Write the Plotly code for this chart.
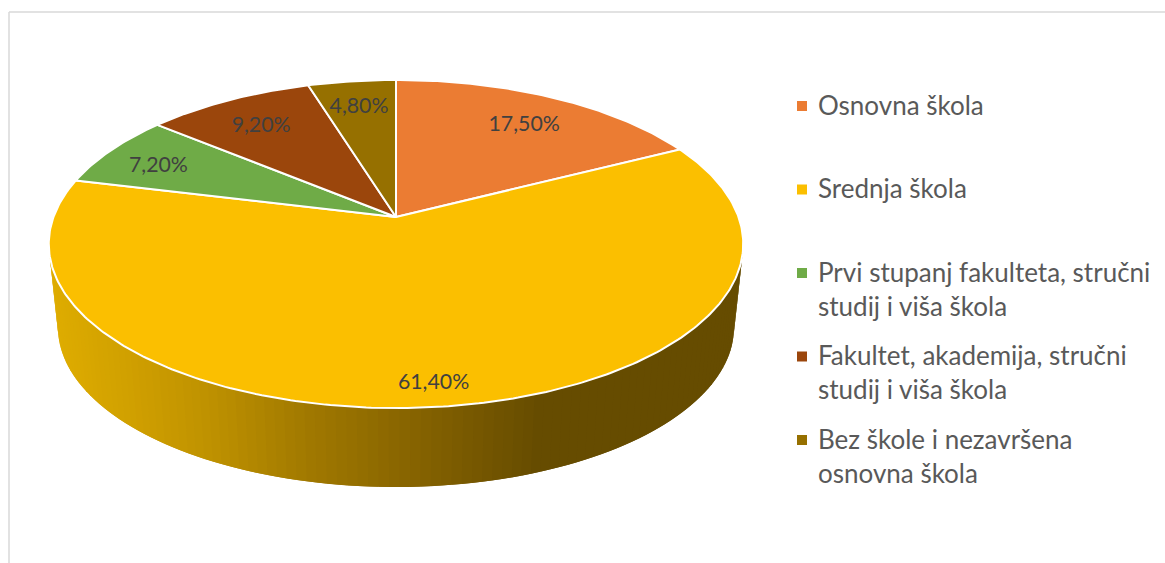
import numpy as np
import plotly.graph_objects as go

# ---- data ----
categories = [
    ["Osnovna škola"],
    ["Srednja škola"],
    ["Prvi stupanj fakulteta, stručni", "studij i viša škola"],
    ["Fakultet, akademija, stručni", "studij i viša škola"],
    ["Bez škole i nezavršena", "osnovna škola"],
]
shares = [17.5, 61.4, 7.2, 9.2, 4.8]

# ---- styling ----
colors = ["#EB7C33", "#FBBF00", "#6FAB47", "#9B460C", "#967000"]
label_radius = [0.79, 0.885, 0.82, 0.79, 0.79]
label_dx = [1, -3.5, -1, 1, -1]
label_dy = [5, 3, 5, 4, 1]
FONT = "Lato"
CX, CY, A, B, K = 396.0, 217.0, 342.5, 159.6, 0.1646
VY, WALL = 3400.0, 0.9736


def project(theta, r=1.0):
    u, v = r * np.sin(theta), r * np.cos(theta)
    d = 1 + K * v
    return CX + A * u / d, CY - B * v / d


def lower(x, y):
    return CX + (x - CX) * WALL, VY + (y - VY) * WALL


def wall_color(x):
    xs = [50, 130, 200, 300, 400, 530, 760]
    rs = [222, 206, 190, 160, 135, 102, 102]
    gs = [172, 158, 145, 120, 100, 76, 76]
    return f"rgb({np.interp(x, xs, rs):.0f},{np.interp(x, xs, gs):.0f},0)"


fig = go.Figure()

# side wall: each strip overlaps the previous one so no seams show
wall_edges = np.radians(np.arange(100, 261, 1.5))
for k in range(1, len(wall_edges)):
    a0, a1 = wall_edges[max(0, k - 2)], wall_edges[k]
    am = wall_edges[k - 1]
    x0, y0 = project(a0)
    xm, ym = project(am)
    x1, y1 = project(a1)
    lx0, ly0 = lower(x0, y0)
    lxm, lym = lower(xm, ym)
    lx1, ly1 = lower(x1, y1)
    c = wall_color((xm + x1) / 2)
    fig.add_trace(go.Scatter(
        x=[x0, xm, x1, lx1, lxm, lx0, x0], y=[y0, ym, y1, ly1, lym, ly0, y0],
        mode="lines", fill="toself", fillcolor=c,
        line=dict(color=c, width=0), hoverinfo="skip", showlegend=False))

# top face
total = sum(shares)
edges = np.cumsum([0] + shares) / total * 2 * np.pi
for i, name in enumerate(categories):
    th = np.linspace(edges[i], edges[i + 1], max(4, int(shares[i] * 5)))
    px, py = project(th)
    fig.add_trace(go.Scatter(
        x=[CX, *px, CX], y=[CY, *py, CY], mode="lines", fill="toself",
        fillcolor=colors[i], line=dict(color="white", width=2),
        name=" ".join(name), hoverinfo="name", showlegend=False))

# value labels
mids = (edges[:-1] + edges[1:]) / 2
lx, ly = project(mids, np.array(label_radius))
fig.add_trace(go.Scatter(
    x=lx + np.array(label_dx), y=ly + np.array(label_dy), mode="text",
    text=[f"{s:.2f}%".replace(".", ",") for s in shares],
    textposition="middle center",
    textfont=dict(family=FONT, size=21.3, color="#404040"),
    hoverinfo="skip", showlegend=False))

# legend
annotations = []
for i, lines in enumerate(categories):
    y = 106 + 83.5 * i
    fig.add_trace(go.Scatter(
        x=[802], y=[y], mode="markers",
        marker=dict(symbol="square", size=10, color=colors[i], line=dict(width=0)),
        hoverinfo="skip", showlegend=False))
    for j, line in enumerate(lines):
        annotations.append(dict(
            x=818, y=y + 34 * j - 1.5, xref="x", yref="y", text=line, showarrow=False,
            xanchor="left", yanchor="middle", xshift=-2,
            font=dict(family=FONT, size=26, color="#595959")))

fig.update_layout(
    width=1165, height=563, margin=dict(l=0, r=0, t=0, b=0),
    paper_bgcolor="white", plot_bgcolor="white", showlegend=False,
    xaxis=dict(range=[0, 1165], visible=False, fixedrange=True),
    yaxis=dict(range=[563, 0], visible=False, fixedrange=True),
    annotations=annotations,
    shapes=[
        dict(type="line", xref="x", yref="y", x0=9, x1=9, y0=12, y1=563,
             line=dict(color="#D9D9D9", width=1.5)),
        dict(type="line", xref="x", yref="y", x0=9, x1=1165, y0=12, y1=12,
             line=dict(color="#D9D9D9", width=1.5)),
    ],
)
fig.write_html("out.html", config=dict(displayModeBar=False),
               post_script="document.body.style.margin='0';")
